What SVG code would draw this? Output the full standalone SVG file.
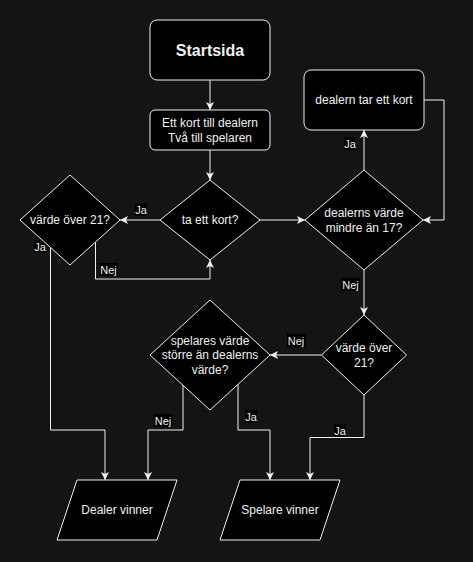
<svg xmlns="http://www.w3.org/2000/svg" width="473" height="562" viewBox="0 0 473 562">
<style>
.bg{fill:#141414}
.node{fill:#000;stroke:#f0f0f0;stroke-width:1}
.t{fill:#f0f0f0;font-family:"Liberation Sans",Arial,sans-serif;font-size:12px;text-anchor:middle;dominant-baseline:central}
.tb{font-size:16px;font-weight:bold}
.e{fill:none;stroke:#f0f0f0;stroke-width:1}
.lb{fill:#000}
.lt{fill:#f0f0f0;font-family:"Liberation Sans",Arial,sans-serif;font-size:11px;text-anchor:middle;dominant-baseline:central}
</style>
<defs>
<marker id="arr" markerUnits="userSpaceOnUse" markerWidth="10" markerHeight="10" refX="8" refY="4" orient="auto">
<path d="M0,0 L8,4 L0,8 L2,4 Z" fill="#f0f0f0"/>
</marker>
</defs>
<rect class="bg" x="0" y="0" width="473" height="562"/>
<g id="edges">
<path class="e" d="M210,80 V110" marker-end="url(#arr)"/>
<path class="e" d="M210,150 V180" marker-end="url(#arr)"/>
<path class="e" d="M160,220 H120" marker-end="url(#arr)"/>
<path class="e" d="M95.5,242 V279 H210 V260" marker-end="url(#arr)"/>
<path class="e" d="M50.5,247.5 V430 H105 V480" marker-end="url(#arr)"/>
<path class="e" d="M260,220 H305" marker-end="url(#arr)"/>
<path class="e" d="M364,170 V130" marker-end="url(#arr)"/>
<path class="e" d="M424,100 H444 V220 H423" marker-end="url(#arr)"/>
<path class="e" d="M364,270 V315" marker-end="url(#arr)"/>
<path class="e" d="M321.5,355 H270" marker-end="url(#arr)"/>
<path class="e" d="M364,395 V437.5 H310 V480" marker-end="url(#arr)"/>
<path class="e" d="M183,385 V430 H148 V480" marker-end="url(#arr)"/>
<path class="e" d="M238,384 V430 H270 V480" marker-end="url(#arr)"/>
<g id="labels">
<rect class="lb" x="135" y="203" width="12" height="13"/><text class="lt" x="141" y="210">Ja</text>
<rect class="lb" x="99" y="263" width="19" height="13"/><text class="lt" x="108.5" y="270">Nej</text>
<rect class="lb" x="34" y="240" width="12" height="13"/><text class="lt" x="40" y="247">Ja</text>
<rect class="lb" x="344" y="137" width="12" height="13"/><text class="lt" x="350" y="143.5">Ja</text>
<rect class="lb" x="341" y="278" width="19" height="13"/><text class="lt" x="350.5" y="285">Nej</text>
<rect class="lb" x="287" y="334" width="19" height="13"/><text class="lt" x="296" y="341">Nej</text>
<rect class="lb" x="334" y="424" width="12" height="13"/><text class="lt" x="340" y="430.5">Ja</text>
<rect class="lb" x="154" y="414" width="19" height="13"/><text class="lt" x="163" y="420.5">Nej</text>
<rect class="lb" x="245" y="410" width="12" height="13"/><text class="lt" x="251" y="416.5">Ja</text>
</g>
</g>
<g id="startsida">
<rect class="node" x="150" y="20" width="120" height="60" rx="7"/>
<text class="t tb" x="210" y="50">Startsida</text>
</g>
<g id="deal">
<rect class="node" x="150" y="110" width="120" height="40" rx="5"/>
<text class="t" x="210" y="123">Ett kort till dealern</text>
<text class="t" x="210" y="138">Två till spelaren</text>
</g>
<g id="ta-ett-kort">
<polygon class="node" points="210,180 260,220 210,260 160,220"/>
<text class="t" x="210" y="220">ta ett kort?</text>
</g>
<g id="varde-over-21-spelare">
<polygon class="node" points="70,175 120,220 70,265 20,220"/>
<text class="t" x="70" y="220">värde över 21?</text>
</g>
<g id="dealern-tar-ett-kort">
<rect class="node" x="304" y="70" width="120" height="60" rx="7"/>
<text class="t" x="364" y="100">dealern tar ett kort</text>
</g>
<g id="dealerns-varde">
<polygon class="node" points="364,170 423,220 364,270 305,220"/>
<text class="t" x="364" y="213">dealerns värde</text>
<text class="t" x="364" y="228">mindre än 17?</text>
</g>
<g id="varde-over-21-dealer">
<polygon class="node" points="364,315 406.5,355 364,395 321.5,355"/>
<text class="t" x="364" y="348">värde över</text>
<text class="t" x="364" y="363">21?</text>
</g>
<g id="spelares-varde">
<polygon class="node" points="210,300 270,355 210,410 150,355"/>
<text class="t" x="210" y="341">spelares värde</text>
<text class="t" x="210" y="355">större än dealerns</text>
<text class="t" x="210" y="370">värde?</text>
</g>
<g id="dealer-vinner">
<polygon class="node" points="77,480 177,480 157,540 57,540"/>
<text class="t" x="117" y="510">Dealer vinner</text>
</g>
<g id="spelare-vinner">
<polygon class="node" points="240,480 340,480 320,540 220,540"/>
<text class="t" x="280" y="510">Spelare vinner</text>
</g>
</svg>
